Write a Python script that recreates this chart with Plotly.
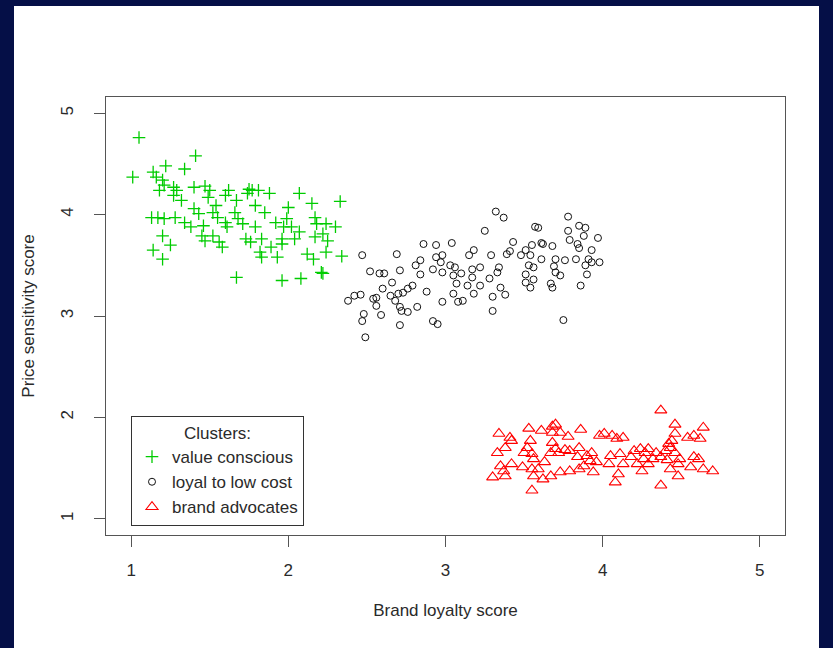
import plotly.graph_objects as go

# ---- data ----
value_x = [1.05, 1.41, 1.22, 1.34, 1.01, 1.14, 1.16, 1.20, 1.21, 1.27, 1.18, 1.29, 1.40, 1.47, 1.50,
           1.49, 1.32, 1.27, 1.62, 1.60, 1.67, 1.75, 1.77, 1.81, 1.74, 1.88, 2.07, 2.15, 2.33, 2.00,
           1.79, 1.85, 1.54, 1.40, 1.43, 1.52, 1.66, 1.13, 1.17, 1.21, 1.28, 1.34, 1.38, 1.46, 1.55,
           1.60, 1.61, 1.68, 1.71, 1.79, 1.92, 1.99, 1.97, 2.02, 2.07, 2.17, 2.18, 2.24, 2.30, 2.22,
           2.17, 2.25, 1.20, 1.25, 1.14, 1.20, 1.45, 1.47, 1.52, 1.56, 1.58, 1.73, 1.76, 1.83, 1.89,
           1.82, 1.83, 1.93, 1.96, 1.96, 2.04, 2.12, 2.16, 2.24, 2.34, 1.67, 1.96, 2.08, 2.21, 2.22]
value_y = [4.76, 4.58, 4.48, 4.45, 4.37, 4.42, 4.37, 4.34, 4.29, 4.27, 4.24, 4.24, 4.27, 4.28, 4.24,
           4.17, 4.14, 4.19, 4.24, 4.19, 4.14, 4.25, 4.24, 4.24, 4.21, 4.21, 4.21, 4.11, 4.13, 4.07,
           4.09, 4.02, 4.09, 4.06, 4.01, 4.02, 4.02, 3.97, 3.97, 3.96, 3.97, 3.92, 3.88, 3.89, 3.97,
           3.92, 3.88, 3.96, 3.91, 3.88, 3.92, 3.96, 3.88, 3.88, 3.83, 3.97, 3.91, 3.91, 3.88, 3.81,
           3.78, 3.74, 3.79, 3.70, 3.65, 3.56, 3.79, 3.74, 3.79, 3.73, 3.68, 3.76, 3.73, 3.76, 3.68,
           3.63, 3.58, 3.58, 3.76, 3.71, 3.76, 3.61, 3.56, 3.63, 3.59, 3.38, 3.35, 3.37, 3.43, 3.42]

loyal_x = [2.86, 2.94, 3.04, 2.47, 2.69, 2.84, 2.81, 2.94, 2.98, 2.97, 2.92, 3.03, 3.06, 3.17, 3.15,
           3.18, 2.71, 2.52, 2.58, 2.61, 2.84, 2.98, 3.05, 3.10, 3.17, 2.66, 2.60, 2.79, 2.76, 2.73,
           2.88, 3.07, 3.14, 3.18, 3.05, 2.38, 2.42, 2.46, 2.54, 2.56, 2.65, 2.68, 2.70, 2.56, 2.71,
           2.72, 2.76, 2.82, 2.98, 3.08, 3.11, 2.59, 2.48, 2.47, 2.71, 2.92, 2.95, 2.49,
           3.32, 3.37, 3.25, 3.57, 3.59, 3.78, 3.78, 3.85, 3.89, 3.88, 3.97, 3.79, 3.84, 3.85, 3.93,
           3.22, 3.29, 3.39, 3.41, 3.43, 3.48, 3.51, 3.55, 3.61, 3.62, 3.68, 3.54, 3.61, 3.70, 3.76,
           3.83, 3.91, 3.93, 3.98, 3.89, 3.53, 3.56, 3.69, 3.70, 3.73, 3.34, 3.33, 3.28, 3.22, 3.51,
           3.51, 3.56, 3.54, 3.67, 3.68, 3.90, 3.86, 3.35, 3.38, 3.30, 3.30, 3.75]
loyal_y = [3.71, 3.70, 3.72, 3.60, 3.61, 3.55, 3.50, 3.58, 3.60, 3.53, 3.46, 3.50, 3.48, 3.46, 3.60,
           3.65, 3.45, 3.44, 3.42, 3.42, 3.41, 3.43, 3.40, 3.42, 3.38, 3.33, 3.27, 3.30, 3.27, 3.23,
           3.24, 3.32, 3.30, 3.22, 3.22, 3.15, 3.20, 3.21, 3.17, 3.18, 3.20, 3.15, 3.22, 3.10, 3.09,
           3.05, 3.04, 3.09, 3.14, 3.14, 3.15, 3.01, 3.02, 2.95, 2.91, 2.95, 2.92, 2.79,
           4.03, 3.97, 3.84, 3.88, 3.87, 3.98, 3.84, 3.89, 3.87, 3.79, 3.77, 3.75, 3.71, 3.67, 3.65,
           3.48, 3.60, 3.61, 3.64, 3.73, 3.60, 3.65, 3.70, 3.72, 3.71, 3.69, 3.60, 3.56, 3.56, 3.55,
           3.56, 3.56, 3.53, 3.53, 3.50, 3.50, 3.48, 3.49, 3.43, 3.40, 3.48, 3.43, 3.37, 3.30, 3.41,
           3.33, 3.36, 3.28, 3.32, 3.28, 3.41, 3.30, 3.28, 3.21, 3.19, 3.05, 2.96]

brand_x = [3.34, 3.41, 3.42, 3.53, 3.61, 3.68, 3.70, 3.68, 3.73, 3.86, 3.78, 3.98, 3.33, 3.38, 3.54,
           3.52, 3.50, 3.55, 3.56, 3.68, 3.70, 3.72, 3.67, 3.76, 3.79, 3.85, 3.84, 3.90, 3.93, 3.92,
           3.96, 3.63, 3.35, 3.42, 3.49, 3.37, 3.30, 3.38, 3.55, 3.59, 3.56, 3.62, 3.67, 3.73, 3.79,
           3.85, 3.88, 3.94, 3.55,
           4.37, 4.46, 4.64, 4.01, 4.06, 4.13, 4.09, 4.46, 4.54, 4.58, 4.62, 4.44, 4.42, 4.20, 4.24,
           4.27, 4.29, 4.34, 4.40, 4.43, 4.46, 4.05, 4.11, 4.18, 4.26, 4.32, 4.37, 4.41, 4.49, 4.58,
           4.61, 4.04, 4.13, 4.22, 4.29, 4.48, 4.56, 4.64, 4.70, 4.10, 4.25, 4.43, 4.48, 4.08, 4.37]
brand_y = [1.84, 1.80, 1.77, 1.89, 1.87, 1.91, 1.93, 1.85, 1.85, 1.88, 1.81, 1.82, 1.65, 1.70, 1.77,
           1.70, 1.65, 1.64, 1.59, 1.75, 1.69, 1.65, 1.65, 1.68, 1.67, 1.70, 1.61, 1.62, 1.65, 1.57,
           1.56, 1.56, 1.52, 1.54, 1.51, 1.47, 1.41, 1.42, 1.49, 1.49, 1.42, 1.39, 1.42, 1.46, 1.47,
           1.49, 1.52, 1.46, 1.28,
           2.07, 1.93, 1.90, 1.84, 1.82, 1.80, 1.79, 1.84, 1.80, 1.82, 1.79, 1.77, 1.74, 1.67, 1.69,
           1.65, 1.69, 1.65, 1.67, 1.70, 1.65, 1.62, 1.64, 1.61, 1.59, 1.59, 1.61, 1.58, 1.59, 1.61,
           1.59, 1.54, 1.54, 1.54, 1.54, 1.54, 1.51, 1.49, 1.47, 1.44, 1.47, 1.49, 1.42, 1.36, 1.33]

tick_vals = [1, 2, 3, 4, 5]
tick_text = ["1", "2", "3", "4", "5"]
axis_range = [0.84, 5.16]

FONT = "Liberation Sans, Arial, sans-serif"
TXT = "#2a2a2a"
NAVY = "#050f47"

fig = go.Figure()
fig.add_trace(go.Scatter(
    x=value_x, y=value_y, mode="markers", name="value conscious",
    marker=dict(symbol="cross-thin-open", size=9, color="#00cc00",
                line=dict(width=1.3, color="#00cc00"))))
fig.add_trace(go.Scatter(
    x=loyal_x, y=loyal_y, mode="markers", name="loyal to low cost",
    marker=dict(symbol="circle-open", size=7, color="#111111",
                line=dict(width=1, color="#111111"))))
fig.add_trace(go.Scatter(
    x=brand_x, y=brand_y, mode="markers", name="brand advocates",
    marker=dict(symbol="triangle-up-open", size=10.5, color="#ff0000",
                line=dict(width=1.1, color="#ff0000"))))

# white slide panel behind the chart
W, H = 833, 648
L, R, T, B = 106, 48, 97, 113
pw, ph = W - L - R, H - T - B
def px2x(p): return (p - L) / pw
def py2y(p): return (H - B - p) / ph
fig.add_shape(type="rect", xref="paper", yref="paper", layer="below",
              x0=px2x(14), x1=px2x(819), y0=py2y(650), y1=py2y(6),
              fillcolor="white", line=dict(width=0))

axis_common = dict(
    range=axis_range, tickmode="array", tickvals=tick_vals, ticktext=tick_text,
    showgrid=False, zeroline=False, showline=True, mirror=True,
    linecolor="#555555", linewidth=1, ticks="outside", ticklen=11,
    tickcolor="#555555", tickwidth=1,
    tickfont=dict(family=FONT, size=17, color=TXT),
)

fig.update_xaxes(**axis_common, ticklabelstandoff=9,
                 title=dict(text="Brand loyalty score", standoff=24,
                            font=dict(family=FONT, size=17, color=TXT)))
fig.update_yaxes(**axis_common, tickangle=-90, ticklabelstandoff=14,
                 title=dict(text="Price sensitivity score", standoff=19,
                            font=dict(family=FONT, size=17, color=TXT)))

fig.update_layout(
    width=W, height=H,
    margin=dict(l=L, r=R, t=T, b=B, autoexpand=False),
    paper_bgcolor=NAVY, plot_bgcolor="white",
    font=dict(family=FONT, size=17, color=TXT),
    showlegend=True,
    legend=dict(
        x=px2x(131), y=py2y(416), xanchor="left", yanchor="top",
        bgcolor="white", bordercolor="#333333", borderwidth=1,
        font=dict(family=FONT, size=17, color=TXT),
        title=dict(text="Clusters:", side="top center",
                   font=dict(family=FONT, size=17, color=TXT)),
        itemwidth=30, tracegroupgap=0,
    ),
)

fig.write_html(
    "out.html",
    config={"displayModeBar": False},
    post_script="document.body.style.margin='0';"
                "document.body.style.background='" + NAVY + "';"
                "document.documentElement.style.overflow='hidden';",
)
